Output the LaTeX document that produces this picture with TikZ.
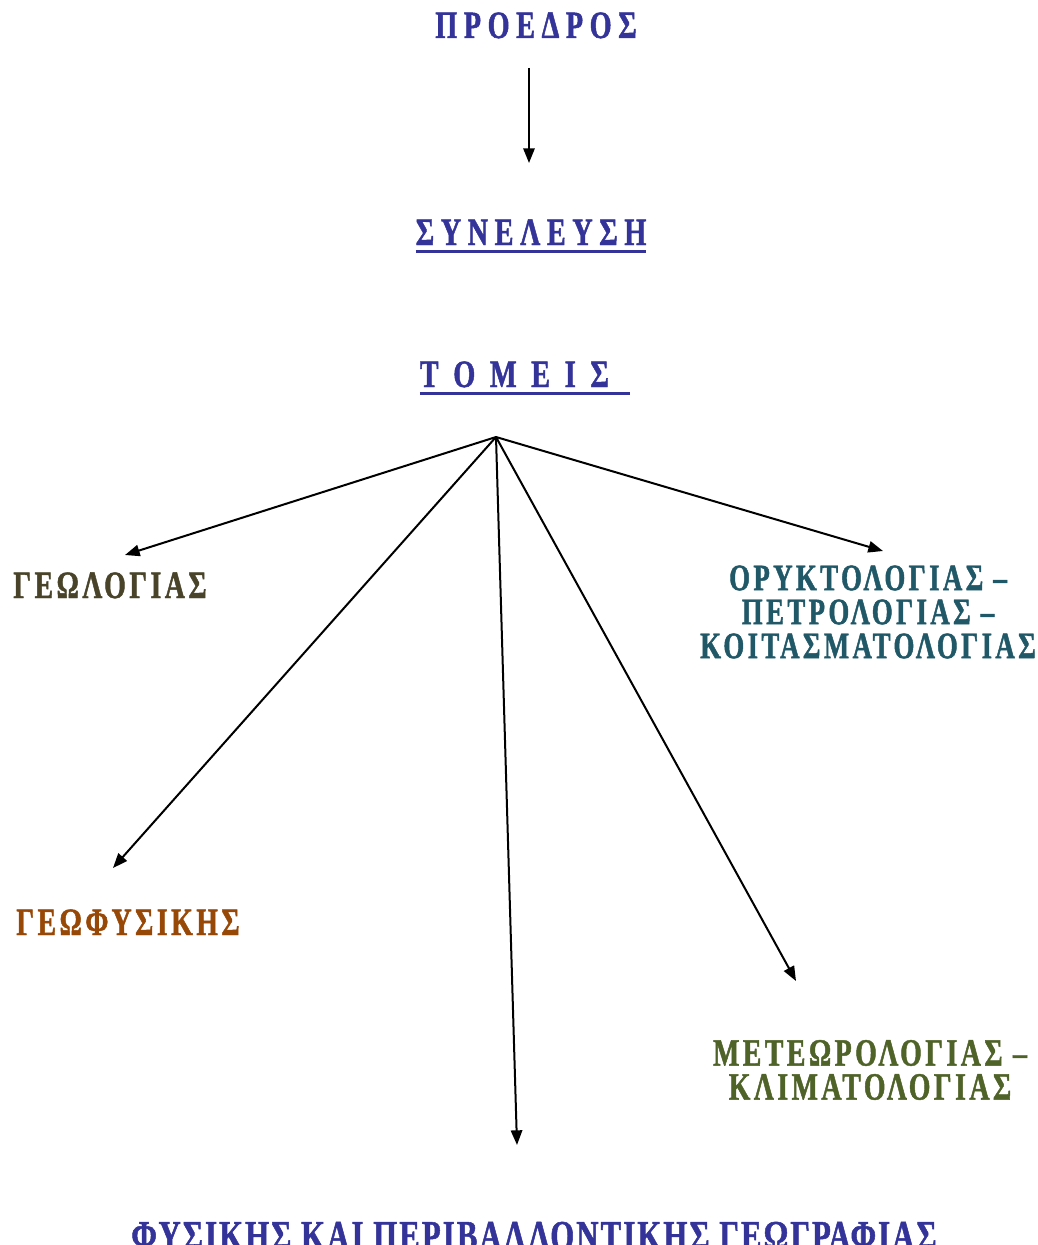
\documentclass[tikz,border=0pt]{standalone}
\usepackage{fontspec}
\setmainfont{Liberation Serif}
\newfontfamily\lblfont[FakeStretch=0.72,LetterSpace=9,FakeBold=1.2]{Liberation Serif}
\newfontfamily\titlefont[FakeStretch=0.73,LetterSpace=17,FakeBold=1.2]{Liberation Serif}
\newfontfamily\botfont[FakeStretch=0.72,LetterSpace=5,FakeBold=1.2]{Liberation Serif}
\usetikzlibrary{arrows.meta}

\definecolor{titleblue}{RGB}{51,51,153}
\definecolor{geolbrown}{RGB}{73,68,41}
\definecolor{orykteal}{RGB}{33,88,104}
\definecolor{geofysorange}{RGB}{152,72,6}
\definecolor{meteogreen}{RGB}{79,98,40}

\newcommand{\ulinebox}[1]{\setbox0\hbox{#1}\rlap{\rule[-6pt]{\wd0}{2.2pt}}\box0}

\tikzset{every picture/.style={line width=1.5pt}}
\tikzset{
  lbl/.style={font=\lblfont\bfseries\fontsize{29}{25.5}\selectfont, inner sep=0pt},
  ttl/.style={font=\titlefont\bfseries\fontsize{29}{30}\selectfont, text=titleblue, inner sep=0pt, anchor=base},
  arr/.style={-{Triangle[length=11pt,width=8.5pt]}}
}

\begin{document}
\begin{tikzpicture}[x=0.75pt,y=0.75pt,yscale=-1,xscale=1]
\useasboundingbox (0,0) rectangle (1038,1245);

% Text Node
\node[ttl] (proedros) at (536,38) {ΠΡΟΕΔΡΟΣ};
% Text Node
\node[ttl] (synelefsi) at (531,245) {\ulinebox{ΣΥΝΕΛΕΥΣΗ}};
% Text Node
\node[ttl] (tomeis) at (525,387) {\ulinebox{\spaceskip=11pt Τ Ο Μ Ε Ι Σ\hspace{16pt}}};

% Text Node
\node[lbl, text=geolbrown, anchor=base] (geologias) at (110,598) {ΓΕΩΛΟΓΙΑΣ};
% Text Node
\node[lbl, font=\lblfont\bfseries\fontsize{28}{25.5}\selectfont, text=orykteal, align=center] (oryktologias) at (868,612) {ΟΡΥΚΤΟΛΟΓΙΑΣ –\\ΠΕΤΡΟΛΟΓΙΑΣ –\\ΚΟΙΤΑΣΜΑΤΟΛΟΓΙΑΣ};
% Text Node
\node[lbl, text=geofysorange, anchor=base] (geofysikis) at (128,935) {ΓΕΩΦΥΣΙΚΗΣ};
% Text Node
\node[lbl, text=meteogreen, align=center] (meteorologias) at (870,1070) {ΜΕΤΕΩΡΟΛΟΓΙΑΣ –\\ΚΛΙΜΑΤΟΛΟΓΙΑΣ};
% Text Node
\node[font=\botfont\bfseries\fontsize{32}{34}\selectfont, text=titleblue, anchor=base, inner sep=0pt] (fysikis) at (534,1250) {ΦΥΣΙΚΗΣ ΚΑΙ ΠΕΡΙΒΑΛΛΟΝΤΙΚΗΣ ΓΕΩΓΡΑΦΙΑΣ};

% arrow ends
\coordinate (pr-out) at (529,68);
\coordinate (syn-in) at (529,163);
\coordinate (hub) at (496,437);
\coordinate (geol-in) at (125,555);
\coordinate (geof-in) at (113,868);
\coordinate (fys-in) at (517,1145);
\coordinate (meteo-in) at (796,981);
\coordinate (oryk-in) at (883,551);

%Shape: Arrow
\draw[arr] (pr-out) -- (syn-in);
%Shape: Arrow
\draw[arr] (hub) -- (geol-in);
%Shape: Arrow
\draw[arr] (hub) -- (geof-in);
%Shape: Arrow
\draw[arr] (hub) -- (fys-in);
%Shape: Arrow
\draw[arr] (hub) -- (meteo-in);
%Shape: Arrow
\draw[arr] (hub) -- (oryk-in);

\end{tikzpicture}
\end{document}
